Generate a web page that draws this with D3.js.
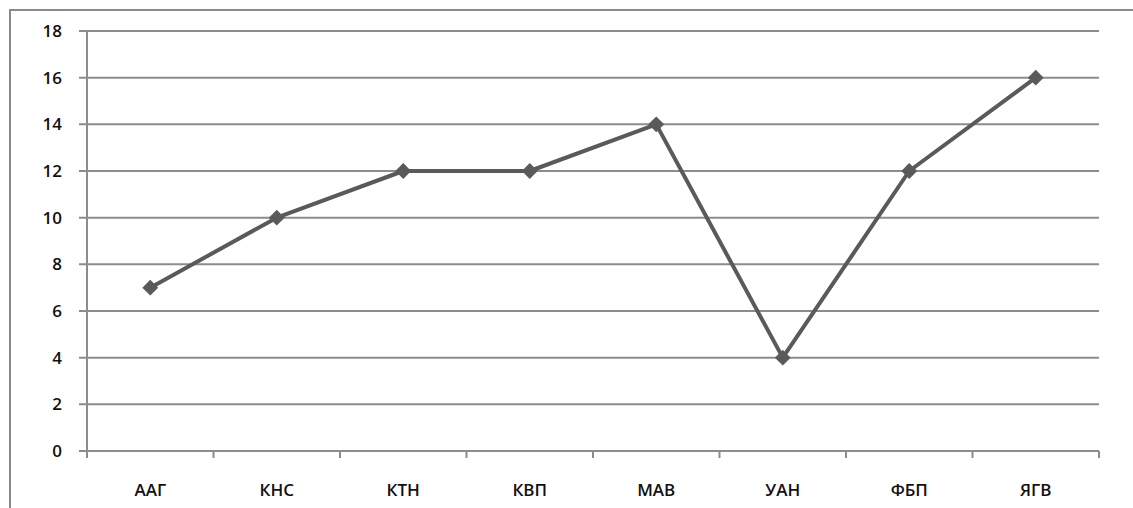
<!DOCTYPE html>
<html>
<head>
<meta charset="utf-8">
<script src="https://cdn.jsdelivr.net/npm/d3@7"></script>
<style>
  body { margin: 0; background: #fff; }
  svg text { font-family: "Open Sans", "Liberation Sans", sans-serif; font-size: 17px; font-weight: 600; fill: #111; }
</style>
</head>
<body>
<div id="chart"></div>
<script>
// данные
const categories = ["ААГ", "КНС", "КТН", "КВП", "МАВ", "УАН", "ФБП", "ЯГВ"];
const values = [7, 10, 12, 12, 14, 4, 12, 16];
const yTicks = [0, 2, 4, 6, 8, 10, 12, 14, 16, 18];

const width = 1133, height = 508;
const margin = { top: 31, right: 34, bottom: 57, left: 87 };

const svg = d3.select("#chart").append("svg")
  .attr("width", width)
  .attr("height", height);

// рамка
svg.append("rect")
  .attr("x", 10).attr("y", 10)
  .attr("width", width + 20).attr("height", height + 20)
  .attr("fill", "none")
  .attr("stroke", "#8a8a8a")
  .attr("stroke-width", 2);

const x = d3.scaleBand()
  .domain(categories)
  .range([margin.left, width - margin.right]);

const y = d3.scaleLinear()
  .domain([0, 18])
  .range([height - margin.bottom, margin.top]);

// сетка
svg.append("g")
  .selectAll("line")
  .data(yTicks)
  .join("line")
  .attr("x1", margin.left - 8)
  .attr("x2", width - margin.right)
  .attr("y1", d => y(d))
  .attr("y2", d => y(d))
  .attr("stroke", "#8c8c8c")
  .attr("stroke-width", 2);

// ось Y
svg.append("line")
  .attr("x1", margin.left).attr("x2", margin.left)
  .attr("y1", y(18)).attr("y2", y(0) + 6)
  .attr("stroke", "#8c8c8c").attr("stroke-width", 2);

svg.append("g")
  .selectAll("text")
  .data(yTicks)
  .join("text")
  .attr("x", margin.left - 25)
  .attr("y", d => y(d))
  .attr("dy", "0.36em")
  .attr("text-anchor", "end")
  .text(d => d);

// ось X: деления между категориями
const xBounds = categories.map(c => x(c)).concat([x.range()[1]]);
svg.append("g")
  .selectAll("line")
  .data(xBounds)
  .join("line")
  .attr("x1", d => d).attr("x2", d => d)
  .attr("y1", y(0)).attr("y2", y(0) + 7)
  .attr("stroke", "#8c8c8c").attr("stroke-width", 2);

svg.append("g")
  .selectAll("text")
  .data(categories)
  .join("text")
  .attr("x", d => x(d) + x.bandwidth() / 2)
  .attr("y", y(0) + 45)
  .attr("text-anchor", "middle")
  .text(d => d);

// линия
const pts = categories.map((c, i) => ({ c, v: values[i] }));
const line = d3.line()
  .x(d => x(d.c) + x.bandwidth() / 2)
  .y(d => y(d.v));

svg.append("path")
  .datum(pts)
  .attr("d", line)
  .attr("fill", "none")
  .attr("stroke", "#5a5a5a")
  .attr("stroke-width", 4)
  .attr("stroke-linejoin", "round");

svg.append("g")
  .selectAll("path")
  .data(pts)
  .join("path")
  .attr("d", d3.symbol().type(d3.symbolDiamond2).size(160))
  .attr("transform", d => `translate(${x(d.c) + x.bandwidth() / 2},${y(d.v)})`)
  .attr("fill", "#5a5a5a");
</script>
</body>
</html>
